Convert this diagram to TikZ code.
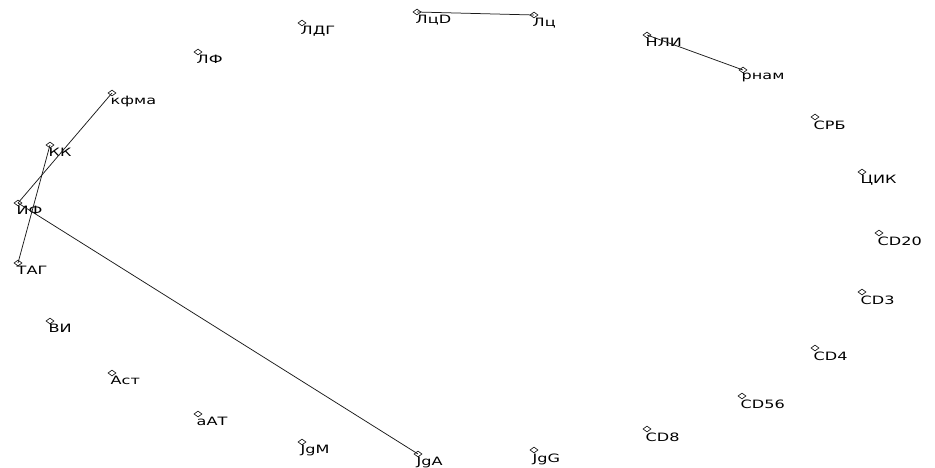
\documentclass[tikz,border=0pt]{standalone}
\usepackage{fontspec}
\usetikzlibrary{shapes.geometric}
\newfontfamily\lblfont{DejaVu Sans}[FakeStretch=1.4]
\definecolor{edgeclr}{HTML}{1A1A1A}
\tikzset{
  vtx/.style  = {diamond, draw, fill=white, inner sep=0pt, line width=0.6pt,
                 minimum width=8pt, minimum height=6pt, label distance=0pt},
  lbl/.style  = {anchor=north west, inner sep=0pt, xshift=-1.5pt, yshift=0pt,
                 font=\lblfont\fontsize{11.5}{13}\selectfont},
  link/.style = {draw=edgeclr, line width=0.75pt},
}
\begin{document}
\begin{tikzpicture}[x=1pt, y=-1pt]
\useasboundingbox (0,0) rectangle (935,468);

%% --- upper arc ---------------------------------------------------------
\node[vtx, label={[lbl]south:ЛцD}]  (lcd)  at (417,12)  {};
\node[vtx, label={[lbl]south:Лц}]   (lc)   at (534,15)  {};
\node[vtx, label={[lbl]south:НЛИ}]  (nli)  at (647,35)  {};
\node[vtx, label={[lbl]south:рнам}] (rnam) at (743,70)  {};
\node[vtx, label={[lbl]south:СРБ}]  (srb)  at (815,117) {};
\node[vtx, label={[lbl]south:ЦИК}]  (cik)  at (862,172) {};

%% --- right side --------------------------------------------------------
\node[vtx, label={[lbl]south:CD20}] (cd20) at (879,233) {};
\node[vtx, label={[lbl]south:CD3}]  (cd3)  at (862,292) {};
\node[vtx, label={[lbl]south:CD4}]  (cd4)  at (815,348) {};
\node[vtx, label={[lbl]south:CD56}] (cd56) at (742,396) {};
\node[vtx, label={[lbl]south:CD8}]  (cd8)  at (647,429) {};

%% --- lower arc ---------------------------------------------------------
\node[vtx, label={[lbl]south:JgG}]  (jgg)  at (534,450) {};
\node[vtx, label={[lbl]south:JgA}]  (jga)  at (418,454) {};
\node[vtx, label={[lbl]south:JgM}]  (jgm)  at (302,442) {};
\node[vtx, label={[lbl]south:аАТ}]  (aat)  at (198,414) {};
\node[vtx, label={[lbl]south:Аст}]  (ast)  at (112,373) {};
\node[vtx, label={[lbl]south:ВИ}]   (vi)   at (50,321)  {};

%% --- left side ---------------------------------------------------------
\node[vtx, label={[lbl]south:ТАГ}]  (tag)  at (18,263)  {};
\node[vtx, label={[lbl]south:ИФ}]   (ifn)  at (18,203)  {};
\node[vtx, label={[lbl]south:КК}]   (kk)   at (50,145)  {};
\node[vtx, label={[lbl]south:кфма}] (kfma) at (112,93)  {};
\node[vtx, label={[lbl]south:ЛФ}]   (lf)   at (198,52)  {};
\node[vtx, label={[lbl]south:ЛДГ}]  (ldg)  at (302,23)  {};

%% --- links -------------------------------------------------------------
\draw[link] (lcd.center)  -- (lc.center);
\draw[link] (nli.center)  -- (rnam.center);
\draw[link] (kfma.center) -- (ifn.center);
\draw[link] (kk.center)   -- (tag.center);
\draw[link] (ifn.center)  -- (jga.center);

\end{tikzpicture}
\end{document}
